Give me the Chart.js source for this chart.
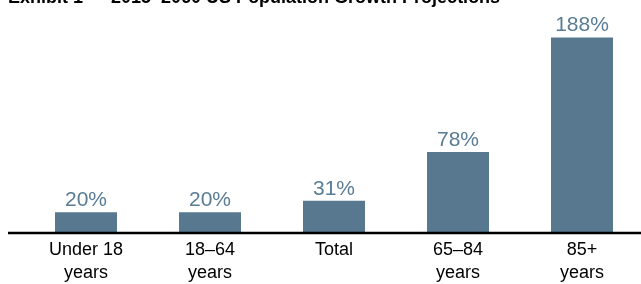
<!DOCTYPE html>
<html>
<head>
<meta charset="utf-8">
<script src="https://cdn.jsdelivr.net/npm/chart.js@4.4.1/dist/chart.umd.min.js"></script>
<style>
  html, body { margin: 0; padding: 0; background: #fff; overflow: hidden; }
  #wrap { position: relative; width: 660px; height: 300px; }
</style>
</head>
<body>
<div id="wrap"><canvas id="chart"></canvas></div>
<script>
const title = "Exhibit 1 \u2014 2015\u20132060 US Population Growth Projections"
const categories = [
    ["Under 18", "years"],
    ["18\u201364", "years"],
    ["Total"],
    ["65\u201384", "years"],
    ["85+", "years"]
]
const growth = [20, 20, 31, 78, 188]
const valueLabels = ["20%", "20%", "31%", "78%", "188%"]

const barColor = "#57788f"
const labelColor = "#5a7c94"
const fontFamily = "'Liberation Sans', Arial, Helvetica, sans-serif"

// title (clipped at top), axis line and value labels
const extras = {
    id: "extras",
    afterDatasetsDraw(chart) {
        const ctx = chart.ctx
        const y0 = chart.scales.y.getPixelForValue(0)
        ctx.save()
        ctx.strokeStyle = "#000"
        ctx.lineWidth = 2.5
        ctx.beginPath()
        ctx.moveTo(8, y0)
        ctx.lineTo(chart.width, y0)
        ctx.stroke()

        ctx.fillStyle = labelColor
        ctx.font = "21px " + fontFamily
        ctx.textAlign = "center"
        ctx.textBaseline = "alphabetic"
        chart.getDatasetMeta(0).data.forEach((bar, i) => {
            ctx.fillText(valueLabels[i], bar.x, bar.y - 6)
        })

        ctx.fillStyle = "#000"
        ctx.font = "bold 18px " + fontFamily
        ctx.textAlign = "left"
        ctx.fillText(title, 8, 3)
        ctx.restore()
    }
}

new Chart(document.getElementById("chart"), {
    type: "bar",
    data: {
        labels: categories,
        datasets: [{
            data: growth,
            backgroundColor: barColor,
            barPercentage: 0.5,
            categoryPercentage: 1
        }]
    },
    options: {
        responsive: true,
        maintainAspectRatio: false,
        animation: false,
        layout: { padding: { top: 25, left: 24, right: 16, bottom: 10 } },
        plugins: {
            legend: { display: false },
            tooltip: { enabled: false }
        },
        scales: {
            x: {
                grid: { display: false, drawTicks: false },
                border: { display: false },
                ticks: {
                    color: "#000",
                    padding: 6,
                    maxRotation: 0,
                    font: { family: fontFamily, size: 18, lineHeight: 1.25 }
                }
            },
            y: {
                display: false,
                min: 0,
                max: 200
            }
        }
    },
    plugins: [extras]
})
</script>
</body>
</html>
